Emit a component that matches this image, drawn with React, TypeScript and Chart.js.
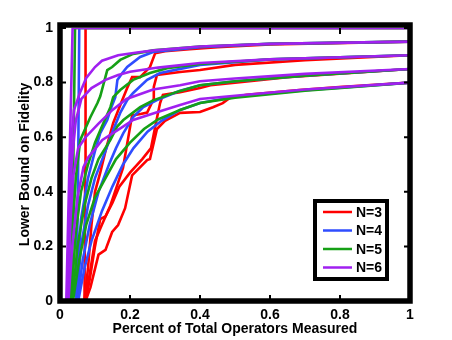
import React, { useEffect, useRef } from "react";
import { Chart, registerables } from "chart.js";

Chart.register(...registerables);

type Pt = [number, number];

const seriesNames = ["N=3", "N=4", "N=5", "N=6"];
const seriesColors = ["#ff0000", "#2f4dff", "#16a016", "#a020f0"];
const xTicks = [0, 0.2, 0.4, 0.6, 0.8, 1];
const yTicks = [0, 0.2, 0.4, 0.6, 0.8, 1];
const xTitle = "Percent of Total Operators Measured";
const yTitle = "Lower Bound on Fidelity";

// N=3 (red)
const red100: Pt[] = [[0.07, 0], [0.072, 0.5], [0.073, 1], [1, 1]];
const red95: Pt[] = [[0.07, 0], [0.08, 0.12], [0.09, 0.28], [0.1, 0.4], [0.115, 0.47], [0.13, 0.55], [0.152, 0.652], [0.178, 0.736], [0.192, 0.78], [0.206, 0.82], [0.229, 0.82], [0.257, 0.857], [0.272, 0.908], [0.3, 0.915], [0.37, 0.922], [0.45, 0.93], [0.6, 0.94], [1, 0.95]];
const red90: Pt[] = [[0.072, 0], [0.085, 0.1], [0.1, 0.22], [0.12, 0.28], [0.144, 0.35], [0.18, 0.487], [0.206, 0.68], [0.23, 0.685], [0.249, 0.69], [0.266, 0.736], [0.268, 0.784], [0.277, 0.828], [0.343, 0.839], [0.4, 0.846], [0.5, 0.865], [0.7, 0.882], [1, 0.9]];
const red85: Pt[] = [[0.073, 0], [0.085, 0.08], [0.1, 0.2], [0.115, 0.3], [0.13, 0.31], [0.15, 0.36], [0.17, 0.42], [0.2, 0.47], [0.235, 0.52], [0.26, 0.56], [0.277, 0.67], [0.286, 0.725], [0.294, 0.755], [0.343, 0.765], [0.4, 0.78], [0.43, 0.79], [0.5, 0.8], [0.65, 0.82], [1, 0.85]];
const red80: Pt[] = [[0.073, 0], [0.087, 0.05], [0.11, 0.17], [0.13, 0.187], [0.149, 0.253], [0.166, 0.278], [0.186, 0.34], [0.206, 0.46], [0.249, 0.516], [0.257, 0.52], [0.277, 0.63], [0.3, 0.66], [0.343, 0.689], [0.4, 0.692], [0.437, 0.71], [0.465, 0.725], [0.485, 0.744], [0.533, 0.755], [0.684, 0.773], [0.798, 0.784], [1, 0.8]];

// N=4 (blue)
const blue100: Pt[] = [[0.047, 0], [0.052, 0.5], [0.055, 1], [1, 1]];
const blue95: Pt[] = [[0.045, 0], [0.06, 0.3], [0.08, 0.45], [0.1, 0.55], [0.115, 0.615], [0.135, 0.663], [0.144, 0.7], [0.158, 0.747], [0.164, 0.81], [0.178, 0.835], [0.192, 0.857], [0.229, 0.894], [0.266, 0.912], [0.4, 0.93], [0.6, 0.942], [1, 0.95]];
const blue90: Pt[] = [[0.048, 0], [0.06, 0.2], [0.08, 0.35], [0.1, 0.45], [0.13, 0.55], [0.15, 0.62], [0.172, 0.689], [0.192, 0.736], [0.209, 0.762], [0.249, 0.81], [0.286, 0.835], [0.4, 0.865], [0.6, 0.885], [1, 0.9]];
const blue85: Pt[] = [[0.05, 0], [0.065, 0.15], [0.085, 0.28], [0.11, 0.4], [0.14, 0.5], [0.16, 0.56], [0.181, 0.615], [0.209, 0.674], [0.238, 0.71], [0.277, 0.736], [0.343, 0.77], [0.4, 0.79], [0.5, 0.805], [0.7, 0.825], [1, 0.85]];
const blue80: Pt[] = [[0.052, 0], [0.07, 0.12], [0.09, 0.22], [0.12, 0.33], [0.15, 0.42], [0.18, 0.5], [0.21, 0.56], [0.25, 0.62], [0.29, 0.66], [0.343, 0.7], [0.4, 0.725], [0.5, 0.748], [0.7, 0.772], [1, 0.8]];

// N=5 (green)
const green100: Pt[] = [[0.03, 0], [0.038, 0.5], [0.043, 1], [1, 1]];
const green95: Pt[] = [[0.03, 0], [0.038, 0.3], [0.045, 0.45], [0.058, 0.59], [0.087, 0.674], [0.107, 0.725], [0.115, 0.75], [0.135, 0.846], [0.149, 0.857], [0.172, 0.883], [0.209, 0.905], [0.266, 0.918], [0.4, 0.932], [0.6, 0.942], [1, 0.95]];
const green90: Pt[] = [[0.032, 0], [0.045, 0.25], [0.06, 0.4], [0.08, 0.5], [0.1, 0.58], [0.12, 0.64], [0.144, 0.71], [0.152, 0.747], [0.172, 0.773], [0.209, 0.81], [0.257, 0.835], [0.306, 0.853], [0.4, 0.868], [0.6, 0.885], [1, 0.9]];
const green85: Pt[] = [[0.035, 0], [0.05, 0.2], [0.07, 0.35], [0.09, 0.45], [0.11, 0.52], [0.144, 0.59], [0.164, 0.64], [0.181, 0.663], [0.229, 0.71], [0.266, 0.735], [0.334, 0.766], [0.4, 0.79], [0.5, 0.805], [0.7, 0.825], [1, 0.85]];
const green80: Pt[] = [[0.037, 0], [0.055, 0.15], [0.075, 0.28], [0.1, 0.38], [0.13, 0.45], [0.16, 0.52], [0.2, 0.58], [0.24, 0.63], [0.28, 0.665], [0.343, 0.7], [0.4, 0.725], [0.5, 0.745], [0.7, 0.77], [1, 0.8]];

// N=6 (purple)
const purple100: Pt[] = [[0.018, 0], [0.027, 0.5], [0.036, 1], [1, 1]];
const purple95: Pt[] = [[0.02, 0], [0.026, 0.3], [0.033, 0.6], [0.04, 0.7], [0.058, 0.766], [0.075, 0.817], [0.1, 0.857], [0.12, 0.88], [0.166, 0.9], [0.22, 0.91], [0.27, 0.918], [0.4, 0.932], [0.6, 0.942], [1, 0.95]];
const purple90: Pt[] = [[0.021, 0], [0.027, 0.3], [0.033, 0.5], [0.045, 0.66], [0.061, 0.74], [0.09, 0.78], [0.13, 0.81], [0.166, 0.828], [0.2, 0.84], [0.28, 0.855], [0.4, 0.872], [0.6, 0.885], [1, 0.9]];
const purple85: Pt[] = [[0.022, 0], [0.03, 0.3], [0.038, 0.46], [0.052, 0.56], [0.073, 0.6], [0.11, 0.65], [0.15, 0.7], [0.19, 0.74], [0.266, 0.775], [0.343, 0.79], [0.4, 0.805], [0.5, 0.815], [0.7, 0.832], [1, 0.85]];
const purple80: Pt[] = [[0.024, 0], [0.035, 0.2], [0.05, 0.38], [0.067, 0.49], [0.081, 0.527], [0.121, 0.59], [0.178, 0.637], [0.209, 0.663], [0.286, 0.695], [0.343, 0.718], [0.4, 0.74], [0.5, 0.752], [0.7, 0.775], [1, 0.8]];

const groups: Pt[][][] = [
  [red100, red95, red90, red85, red80],
  [blue100, blue95, blue90, blue85, blue80],
  [green100, green95, green90, green85, green80],
  [purple100, purple95, purple90, purple85, purple80],
];

const FONT = "'Liberation Sans', Arial, Helvetica, sans-serif";

const framePlugin = {
  id: "matlabFrame",
  afterDraw(chart: any) {
    const { ctx, chartArea, scales } = chart;
    const { left, right, top, bottom } = chartArea;
    const xs = scales.x;
    const ys = scales.y;
    ctx.save();
    ctx.strokeStyle = "#000";
    ctx.lineCap = "butt";
    ctx.lineWidth = 2;
    const tl = 6;
    ctx.beginPath();
    for (const v of xTicks) {
      const px = xs.getPixelForValue(v);
      ctx.moveTo(px, bottom);
      ctx.lineTo(px, bottom - tl);
      ctx.moveTo(px, top);
      ctx.lineTo(px, top + tl);
    }
    for (const v of yTicks) {
      const py = ys.getPixelForValue(v);
      ctx.moveTo(left, py);
      ctx.lineTo(left + tl, py);
      ctx.moveTo(right, py);
      ctx.lineTo(right - tl, py);
    }
    ctx.stroke();
    // frame
    ctx.lineWidth = 5.5;
    ctx.lineJoin = "miter";
    ctx.strokeRect(left, top - 3, right - left, bottom - top + 3);

    // legend
    const bx0 = right - 95;
    const by0 = bottom - 100;
    const bw = 72;
    const bh = 78;
    ctx.fillStyle = "#fff";
    ctx.fillRect(bx0, by0, bw, bh);
    ctx.lineWidth = 4;
    ctx.strokeRect(bx0, by0, bw, bh);
    ctx.font = `bold 14px ${FONT}`;
    ctx.textBaseline = "middle";
    ctx.textAlign = "left";
    seriesNames.forEach((name, i) => {
      const yy = by0 + 11 + i * 18.5;
      ctx.strokeStyle = seriesColors[i];
      ctx.lineWidth = 2.5;
      ctx.beginPath();
      ctx.moveTo(bx0 + 8, yy);
      ctx.lineTo(bx0 + 37, yy);
      ctx.stroke();
      ctx.fillStyle = "#000";
      ctx.fillText(name, bx0 + 41, yy + 1);
    });
    ctx.restore();
  },
};

export default function App() {
  const ref = useRef<HTMLCanvasElement | null>(null);

  useEffect(() => {
    if (!ref.current) return;
    Chart.defaults.color = "#000";
    const datasets: any[] = [];
    groups.forEach((curves, gi) => {
      curves.forEach((curve) => {
        datasets.push({
          label: seriesNames[gi],
          data: curve.map(([x, y]) => ({ x, y })),
          borderColor: seriesColors[gi],
          backgroundColor: seriesColors[gi],
          borderWidth: 2.6,
          pointRadius: 0,
          tension: 0,
          fill: false,
          order: 3 - gi,
        });
      });
    });
    const chart = new Chart(ref.current, {
      type: "line",
      data: { datasets },
      options: {
        animation: false,
        responsive: false,
        devicePixelRatio: 1,
        layout: { padding: { top: 28, right: 42, left: 0, bottom: 0 } },
        plugins: {
          legend: { display: false },
          tooltip: { enabled: false },
        },
        scales: {
          x: {
            type: "linear",
            min: 0,
            max: 1,
            afterFit: (s: any) => {
              s.height = 39;
            },
            afterBuildTicks: (s: any) => {
              s.ticks = xTicks.map((v) => ({ value: v }));
            },
            grid: { display: false, drawTicks: false },
            border: { display: false },
            ticks: {
              padding: 6,
              color: "#000",
              font: { family: FONT, size: 14, weight: "bold" },
              callback: (v: any) => String(Number(v)),
              maxRotation: 0,
            },
            title: {
              display: true,
              text: xTitle,
              color: "#000",
              font: { family: FONT, size: 14, weight: "bold" },
              padding: { top: 0, bottom: 2 },
            },
          },
          y: {
            type: "linear",
            min: 0,
            max: 1,
            afterFit: (s: any) => {
              s.width = 60;
            },
            afterBuildTicks: (s: any) => {
              s.ticks = yTicks.map((v) => ({ value: v }));
            },
            grid: { display: false, drawTicks: false },
            border: { display: false },
            ticks: {
              padding: 7,
              color: "#000",
              font: { family: FONT, size: 14, weight: "bold" },
              callback: (v: any) => String(Number(v)),
            },
            title: {
              display: true,
              text: yTitle,
              color: "#000",
              font: { family: FONT, size: 14, weight: "bold" },
              padding: { top: 17, bottom: 0 },
            },
          },
        },
      },
      plugins: [framePlugin],
    });
    return () => chart.destroy();
  }, []);

  return (
    <div style={{ position: "fixed", left: 0, top: 0, width: 452, height: 340, background: "#fff" }}>
      <canvas ref={ref} width={452} height={340} style={{ width: 452, height: 340, display: "block" }} />
    </div>
  );
}
